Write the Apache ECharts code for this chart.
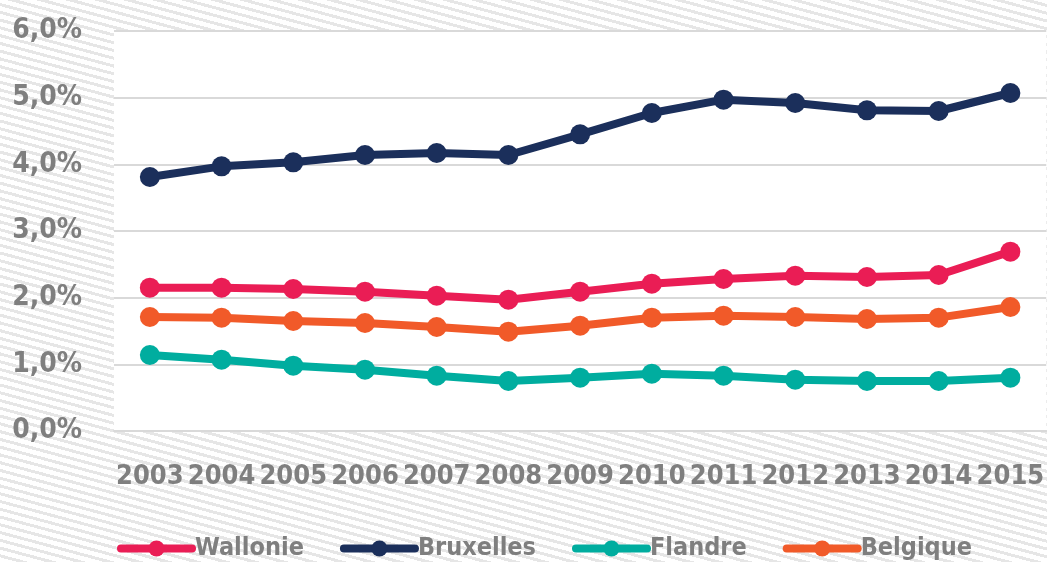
<!DOCTYPE html>
<html>
<head>
<meta charset="utf-8">
<script src="https://cdn.jsdelivr.net/npm/echarts@6/dist/echarts.min.js"></script>
<style>
  html, body {
    margin: 0;
    padding: 0;
    width: 1047px;
    height: 562px;
    overflow: hidden;
    background-color: #fff;
    background-image: repeating-linear-gradient(15deg, #fff 0px, #fff 4.5px, #e6e6e6 4.5px, #e6e6e6 7.5px);
  }
  #chart { width: 1047px; height: 562px; }
</style>
</head>
<body>
<div id="chart"></div>
<script>
  var years = ['2003', '2004', '2005', '2006', '2007', '2008', '2009', '2010', '2011', '2012', '2013', '2014', '2015']
  var wallonie = [2.15, 2.15, 2.13, 2.09, 2.03, 1.97, 2.09, 2.21, 2.28, 2.33, 2.31, 2.34, 2.69]
  var bruxelles = [3.81, 3.97, 4.03, 4.14, 4.17, 4.14, 4.45, 4.77, 4.97, 4.92, 4.81, 4.80, 5.07]
  var flandre = [1.14, 1.07, 0.98, 0.92, 0.83, 0.75, 0.80, 0.86, 0.83, 0.77, 0.75, 0.75, 0.80]
  var belgique = [1.71, 1.70, 1.65, 1.62, 1.56, 1.49, 1.58, 1.70, 1.73, 1.71, 1.68, 1.70, 1.86]

  var font = '"Liberation Sans Narrow", "DejaVu Sans Condensed", "Roboto", sans-serif'
  var grey = '#7f7f7f'

  function line(name, data, color) {
    return {
      name: name,
      type: 'line',
      data: data,
      symbol: 'circle',
      symbolSize: 20,
      lineStyle: { width: 8, color: color },
      itemStyle: { color: color },
      emphasis: { disabled: true },
      z: 3
    }
  }

  var chart = echarts.init(document.getElementById('chart'))
  chart.setOption({
    animation: false,
    backgroundColor: 'transparent',
    grid: {
      show: true,
      backgroundColor: '#fff',
      borderWidth: 0,
      left: 114,
      right: -4,
      top: 31,
      bottom: 131
    },
    legend: {
      left: 117,
      top: 536,
      padding: 0,
      width: 930,
      itemWidth: 71,
      itemHeight: 20,
      itemGap: 36,
      lineStyle: { width: 8, cap: 'round' },
      textStyle: {
        fontFamily: font,
        fontWeight: 'bold',
        fontSize: 25,
        color: grey,
        padding: [0, 0, 0, -2]
      },
      data: ['Wallonie', 'Bruxelles', 'Flandre', 'Belgique']
    },
    xAxis: {
      type: 'category',
      data: years,
      boundaryGap: true,
      axisLine: { lineStyle: { color: '#d9d9d9', width: 2 } },
      axisTick: { show: false },
      axisLabel: {
        margin: 32,
        fontFamily: font,
        fontWeight: 'bold',
        fontSize: 27,
        color: grey,
        interval: 0
      }
    },
    yAxis: {
      type: 'value',
      min: 0,
      max: 6,
      interval: 1,
      axisLine: { show: false },
      axisTick: { show: false },
      splitLine: { lineStyle: { color: '#d9d9d9', width: 2 } },
      axisLabel: {
        margin: 32,
        fontFamily: font,
        fontWeight: 'bold',
        fontSize: 28,
        color: grey,
        formatter: function (v) { return v.toFixed(1).replace('.', ',') + '%' }
      }
    },
    series: [
      line('Wallonie', wallonie, '#ea1d55'),
      line('Bruxelles', bruxelles, '#1b2f5b'),
      line('Flandre', flandre, '#00ad9f'),
      line('Belgique', belgique, '#f15a29')
    ]
  })
</script>
</body>
</html>
